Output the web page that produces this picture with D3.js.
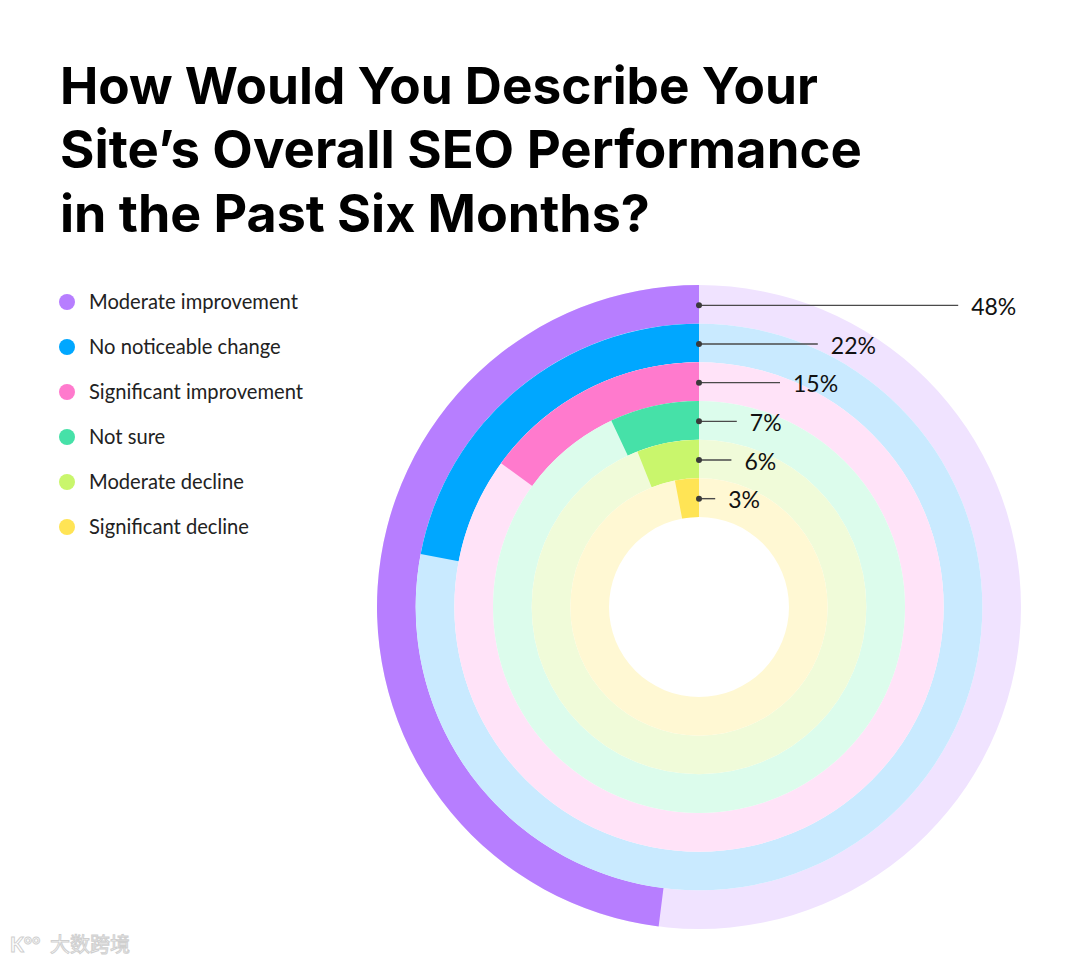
<!DOCTYPE html>
<html>
<head>
<meta charset="utf-8">
<script src="https://cdn.jsdelivr.net/npm/d3@7"></script>
<style>
  html, body { margin: 0; padding: 0; background: #ffffff; }
  svg { display: block; }
</style>
</head>
<body>
<svg id="chart" width="1080" height="964"></svg>
<script>
const titleLines = ["How Would You Describe Your", "Site\u2019s Overall SEO Performance", "in the Past Six Months?"];
const categories = ["Moderate improvement", "No noticeable change", "Significant improvement", "Not sure", "Moderate decline", "Significant decline"];
const values = [48, 22, 15, 7, 6, 3];
const colors = ["#B77EFF", "#00A7FF", "#FF7ACD", "#46E1A8", "#C9F66C", "#FFE455"];
const tints = ["#F0E3FF", "#C9EAFF", "#FFE3F8", "#DCFCEC", "#F0FBD9", "#FFF8D3"];
const watermark = "大数跨境";

const svg = d3.select("#chart");
const W = 1080, H = 964;
svg.append("rect").attr("width", W).attr("height", H).attr("fill", "#fff");

// Title
const titleFont = "Inter, 'Noto Sans', sans-serif";
const titleTargets = [758, 802, 590];
const baselines = [104, 168, 232];
titleLines.forEach((t, i) => {
  const txt = svg.append("text")
    .attr("x", 60).attr("y", baselines[i])
    .attr("font-family", titleFont)
    .attr("font-weight", 700)
    .attr("font-size", 56)
    .attr("fill", "#000")
    .text(t);
  const w = txt.node().getComputedTextLength();
  txt.attr("font-size", 56 * titleTargets[i] / w);
});

// Legend
const legendFont = "Lato, 'Noto Sans', sans-serif";
const legend = svg.append("g");
const legendY = d3.scalePoint().domain(categories).range([302, 527]);
const legendTexts = [];
categories.forEach((c, i) => {
  legend.append("circle").attr("cx", 67).attr("cy", legendY(c)).attr("r", 8).attr("fill", colors[i]);
  legendTexts.push(legend.append("text").attr("x", 89).attr("y", legendY(c)).attr("dy", "0.36em")
    .attr("font-family", legendFont)
    .attr("font-size", 18.5).attr("fill", "#222").text(c));
});
const lw = legendTexts[0].node().getComputedTextLength();
const legendSize = 18.5 * 209 / lw;
legendTexts.forEach(t => t.attr("font-size", legendSize));

// Radial bars
const cx = 699, cy = 607;
const r = d3.scaleBand().domain(categories).range([322, 90]).padding(0);
const angle = d3.scaleLinear().domain([0, 100]).range([0, -2 * Math.PI]);
const lineLen = d3.scaleLinear().domain([0, 100]).range([0, 540]);
const arc = d3.arc();
const g = svg.append("g").attr("transform", `translate(${cx},${cy})`);

categories.forEach((c, i) => {
  const inner = r(c), outer = r(c) + r.bandwidth();
  g.append("path")
    .attr("d", arc({innerRadius: inner, outerRadius: outer, startAngle: 0, endAngle: 2 * Math.PI}))
    .attr("fill", tints[i]);
  g.append("path")
    .attr("d", arc({innerRadius: inner, outerRadius: outer, startAngle: 0, endAngle: angle(values[i])}))
    .attr("fill", colors[i]);
});

categories.forEach((c, i) => {
  const mid = -(r(c) + r.bandwidth() / 2) + 1;
  const len = lineLen(values[i]);
  g.append("line").attr("x1", 0).attr("x2", len).attr("y1", mid).attr("y2", mid)
    .attr("stroke", "#4a4a4a").attr("stroke-width", 1.4);
  g.append("circle").attr("cx", 0).attr("cy", mid).attr("r", 3).attr("fill", "#3a3a3a");
  g.append("text").attr("x", len + 13).attr("y", mid + 1.5).attr("dy", "0.36em")
    .attr("font-family", legendFont)
    .attr("font-size", 23).attr("fill", "#111").text(values[i] + "%");
});

// Watermark
svg.append("text").attr("x", 50).attr("y", 952)
  .attr("font-family", "'Noto Sans CJK SC', sans-serif")
  .attr("font-size", 20).attr("fill", "#fff")
  .attr("stroke", "#cfcfcf").attr("stroke-width", 1)
  .text(watermark);
svg.append("text").attr("x", 10).attr("y", 952)
  .attr("font-family", "Lato, sans-serif").attr("font-weight", 700)
  .attr("font-size", 20).attr("fill", "#fff")
  .attr("stroke", "#cfcfcf").attr("stroke-width", 1)
  .text("K°°");
</script>
</body>
</html>
